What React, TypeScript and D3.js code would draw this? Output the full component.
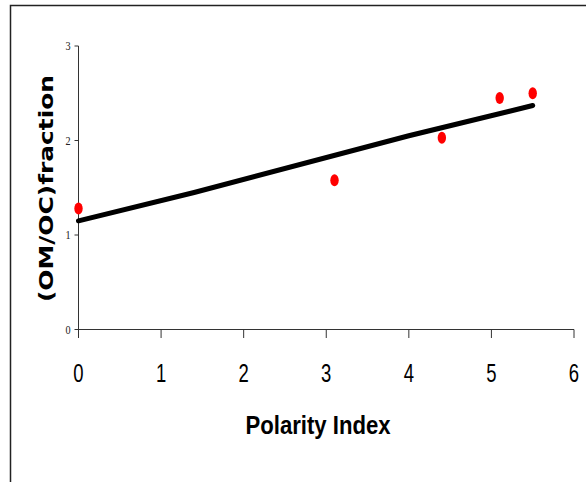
import React from "react";
import * as d3 from "d3";

const pointX = [0, 3.1, 4.4, 5.1, 5.5];
const pointY = [1.28, 1.58, 2.03, 2.45, 2.5];
const trendX = [0, 1.4, 4, 5.5];
const trendY = [1.15, 1.45, 2.05, 2.37];
const xTicks = [0, 1, 2, 3, 4, 5, 6];
const yTicks = [0, 1, 2, 3];
const xTitle = "Polarity Index";
const yTitle = "(OM/OC)fraction";

export default function App() {
  const W = 586, H = 482;
  const x = d3.scaleLinear().domain([0, 6]).range([78.5, 574]);
  const y = d3.scaleLinear().domain([0, 3]).range([329.5, 46]);
  const line = d3
    .line<number>()
    .x((_, i) => x(trendX[i]))
    .y((d) => y(d));
  const narrow = "'Liberation Sans Narrow', 'Arial Narrow', 'Liberation Sans', sans-serif";
  return (
    <svg width={W} height={H} style={{ position: "absolute", left: 0, top: 0, display: "block" }}>
      <rect x={0} y={0} width={W} height={H} fill="#fff" />
      <rect x={10.5} y={5.5} width={700} height={600} fill="none" stroke="#222" strokeWidth={1.5} />
      {/* axes */}
      <line x1={x(0)} x2={x(0)} y1={y(3)} y2={y(0) + 8.5} stroke="#333" strokeWidth={1} />
      <line x1={x(0)} x2={x(6)} y1={y(0)} y2={y(0)} stroke="#333" strokeWidth={1} />
      {yTicks.map((t) => (
        <g key={"y" + t}>
          <line x1={x(0) - 4} x2={x(0)} y1={y(t)} y2={y(t)} stroke="#333" strokeWidth={1} />
          <text
            transform={`translate(${x(0) - 8},${y(t) + 4}) scale(0.85,1)`}
            textAnchor="end"
            fontFamily="'Liberation Serif', serif"
            fontSize={12}
            fill="#222"
          >
            {t}
          </text>
        </g>
      ))}
      {xTicks.map((t) => (
        <g key={"x" + t}>
          <line x1={x(t)} x2={x(t)} y1={y(0)} y2={y(0) + 8.5} stroke="#333" strokeWidth={1} />
          <text
            transform={`translate(${x(t)},382) scale(0.74,1)`}
            textAnchor="middle"
            fontFamily={narrow}
            fontSize={25}
            fill="#000"
          >
            {t}
          </text>
        </g>
      ))}
      <text
        x={318}
        y={434}
        textAnchor="middle"
        fontFamily={narrow}
        fontWeight="bold"
        fontSize={25}
        textLength={145}
        lengthAdjust="spacingAndGlyphs"
        fill="#000"
      >
        {xTitle}
      </text>
      <text
        transform={`translate(53,188.5) rotate(-90)`}
        textAnchor="middle"
        fontFamily="'DejaVu Sans', Verdana, sans-serif"
        fontWeight="bold"
        fontSize={20}
        textLength={227}
        lengthAdjust="spacingAndGlyphs"
        fill="#000"
      >
        {yTitle}
      </text>
      <path d={line(trendY) || ""} fill="none" stroke="#000" strokeWidth={5} strokeLinecap="round" strokeLinejoin="round" />
      {pointX.map((px, i) => (
        <ellipse key={i} cx={x(px)} cy={y(pointY[i])} rx={4.2} ry={6} fill="#ff0000" />
      ))}
    </svg>
  );
}
